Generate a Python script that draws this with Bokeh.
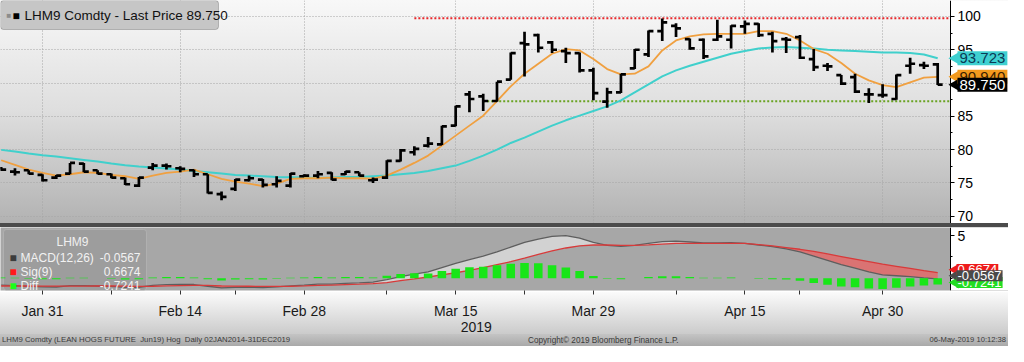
import numpy as np
import pandas as pd
from bokeh.plotting import figure
from bokeh.layouts import column
from bokeh.models import (ColumnDataSource, FixedTicker, SingleIntervalTicker,
                          Label, BoxAnnotation, Div, Range1d, Grid, LinearAxis)
from bokeh.transform import dodge
from bokeh.embed import file_html
from bokeh.resources import INLINE

# ---------------- data ----------------
dates = [
    "2019-01-28", "2019-01-29", "2019-01-30", "2019-01-31",
    "2019-02-01", "2019-02-04", "2019-02-05", "2019-02-06", "2019-02-07", "2019-02-08",
    "2019-02-11", "2019-02-12", "2019-02-13", "2019-02-14", "2019-02-15",
    "2019-02-19", "2019-02-20", "2019-02-21", "2019-02-22",
    "2019-02-25", "2019-02-26", "2019-02-27", "2019-02-28", "2019-03-01",
    "2019-03-04", "2019-03-05", "2019-03-06", "2019-03-07", "2019-03-08",
    "2019-03-11", "2019-03-12", "2019-03-13", "2019-03-14", "2019-03-15",
    "2019-03-18", "2019-03-19", "2019-03-20", "2019-03-21", "2019-03-22",
    "2019-03-25", "2019-03-26", "2019-03-27", "2019-03-28", "2019-03-29",
    "2019-04-01", "2019-04-02", "2019-04-03", "2019-04-04", "2019-04-05",
    "2019-04-08", "2019-04-09", "2019-04-10", "2019-04-11", "2019-04-12",
    "2019-04-15", "2019-04-16", "2019-04-17", "2019-04-18",
    "2019-04-22", "2019-04-23", "2019-04-24", "2019-04-25", "2019-04-26",
    "2019-04-29", "2019-04-30", "2019-05-01", "2019-05-02", "2019-05-03",
    "2019-05-06",
]

opens = [77.2, 76.7, 76.9, 76.2, 75.8, 76.4, 77.9, 76.9, 76.3, 75.7,
         74.6, 77.3, 77.6, 77.2, 76.9, 76.3, 73.3, 74.1, 75.4, 75.5,
         74.8, 74.6, 76.0, 76.1, 76.5, 76.3, 76.6, 75.4, 75.8, 78.3,
         79.6, 80.6, 80.8, 83.6, 88.3, 88.0, 87.3, 90.5, 96.0, 97.2,
         96.1, 94.8, 94.5, 91.9, 87.2, 88.6, 92.2, 94.3, 97.8, 98.6,
         96.6, 96.5, 96.5, 96.5, 98.5, 98.9, 97.4, 96.6, 96.9, 93.6,
         92.6, 91.2, 90.9, 88.3, 88.2, 87.6, 92.6, 92.7, 92.8]
highs = [77.4, 77.2, 76.9, 76.3, 76.2, 78.0, 78.0, 76.9, 76.4, 75.8,
         75.9, 78.0, 77.9, 77.5, 77.0, 76.3, 73.7, 75.6, 76.1, 75.6,
         76.0, 76.5, 76.3, 76.8, 76.6, 76.8, 76.6, 75.8, 78.4, 80.1,
         80.5, 81.9, 83.6, 86.6, 88.8, 88.4, 90.2, 94.6, 97.7, 97.4,
         96.3, 95.3, 94.6, 92.3, 89.3, 91.4, 95.1, 97.9, 99.7, 99.0,
         96.7, 96.7, 99.5, 98.7, 99.4, 99.0, 97.7, 96.9, 97.2, 95.1,
         93.0, 91.2, 91.4, 89.2, 89.8, 91.3, 93.8, 93.2, 93.0]
lows = [76.8, 76.1, 76.3, 75.2, 75.6, 76.3, 76.6, 76.3, 75.7, 74.7,
        74.4, 76.9, 77.0, 76.6, 75.9, 73.4, 72.4, 73.8, 75.2, 74.3,
        74.3, 74.3, 75.9, 75.7, 75.4, 76.2, 76.0, 75.0, 75.6, 78.2,
        79.1, 80.3, 80.7, 83.5, 85.6, 85.8, 87.2, 90.5, 91.0, 94.6,
        94.5, 93.0, 91.6, 87.4, 86.3, 88.5, 92.1, 93.9, 96.3, 96.9,
        95.0, 93.6, 96.3, 95.2, 97.4, 96.9, 94.6, 94.5, 93.6, 91.8,
        91.8, 89.7, 88.5, 87.0, 87.8, 87.5, 91.4, 92.1, 89.7]
closes = [77.0, 76.6, 76.4, 75.4, 76.1, 78.0, 76.7, 76.4, 75.8, 74.8,
          75.8, 77.6, 77.5, 77.1, 76.3, 73.5, 72.9, 75.5, 75.7, 74.7,
          75.3, 76.4, 76.1, 76.3, 75.5, 76.7, 76.1, 75.5, 78.3, 79.9,
          80.1, 80.9, 83.5, 86.5, 87.6, 87.3, 90.2, 94.5, 95.8, 95.3,
          95.0, 94.5, 91.9, 88.5, 88.6, 91.3, 95.0, 97.8, 99.1, 98.2,
          95.2, 94.0, 97.0, 98.6, 98.9, 97.2, 96.3, 96.5, 93.8, 92.4,
          92.5, 89.9, 88.7, 88.3, 88.2, 91.2, 92.9, 92.6, 89.75]

ma_fast = [78.4, 77.7, 77.0, 76.5, 76.1, 76.3, 76.6, 76.5, 76.2, 76.0,
           75.6, 76.1, 76.5, 76.7, 77.0, 76.3, 75.6, 75.2, 74.9, 74.5,
           74.9, 75.6, 75.7, 75.7, 75.8, 75.7, 75.7, 75.65, 76.1, 77.0,
           78.0, 79.1, 80.6, 82.1, 83.6, 85.1, 87.3, 89.5, 91.4, 92.9,
           94.4, 95.1, 94.9, 93.6, 92.1, 91.3, 91.4, 92.5, 94.9, 96.4,
           97.0, 97.3, 97.4, 97.4, 97.4, 97.8, 97.8, 97.4, 96.4, 95.1,
           94.4, 93.0, 91.4, 90.4, 89.7, 89.4, 90.1, 90.8, 90.94]
ma_slow = [79.96, 79.7, 79.4, 79.15, 78.95, 78.7, 78.45, 78.2, 77.9, 77.65,
           77.45, 77.3, 77.15, 77.0, 76.8, 76.6, 76.4, 76.2, 76.1, 76.0,
           75.9, 75.85, 75.8, 75.75, 75.8, 75.9, 75.9, 76.0, 76.1, 76.3,
           76.5, 76.8, 77.2, 77.6, 78.3, 79.1, 80.0, 81.0, 81.8, 82.7,
           83.6, 84.4, 85.1, 85.8, 86.5, 87.4, 88.6, 89.8, 91.0, 91.9,
           92.6, 93.2, 93.8, 94.4, 94.8, 95.2, 95.35, 95.4, 95.3, 95.2,
           95.0, 94.9, 94.8, 94.7, 94.6, 94.6, 94.5, 94.3, 93.723]

macd = [-0.80, -0.85, -0.95, -1.01, -1.02, -0.87, -0.86, -0.90, -0.95, -1.07,
        -1.05, -0.83, -0.74, -0.71, -0.73, -0.93, -1.13, -1.06, -1.03, -1.10,
        -1.00, -0.88, -0.79, -0.69, -0.69, -0.59, -0.54, -0.45, -0.15, 0.20,
        0.50, 0.75, 1.25, 1.75, 2.20, 2.60, 3.10, 3.65, 4.20, 4.60,
        4.90, 5.00, 4.70, 4.20, 3.85, 3.75, 3.85, 4.10, 4.30, 4.35,
        4.25, 4.15, 4.15, 4.18, 4.08, 3.90, 3.70, 3.45, 3.10, 2.60,
        2.10, 1.60, 1.20, 0.75, 0.40, 0.30, 0.20, 0.05, -0.0567]
signal = [-0.90, -0.90, -0.90, -0.91, -0.92, -0.92, -0.91, -0.90, -0.90, -0.92,
          -0.95, -0.93, -0.89, -0.86, -0.83, -0.83, -0.88, -0.91, -0.93, -0.95,
          -0.95, -0.93, -0.89, -0.84, -0.79, -0.74, -0.69, -0.63, -0.50, -0.28,
          -0.08, 0.15, 0.40, 0.65, 0.92, 1.25, 1.60, 1.95, 2.35, 2.80,
          3.20, 3.55, 3.80, 3.90, 3.90, 3.85, 3.85, 3.92, 4.00, 4.08,
          4.10, 4.10, 4.10, 4.10, 4.08, 3.95, 3.80, 3.60, 3.40, 3.15,
          2.85, 2.55, 2.25, 1.95, 1.65, 1.40, 1.15, 0.90, 0.6674]
diff = [0.10, 0.05, -0.05, -0.10, -0.10, 0.05, 0.05, 0.00, -0.05, -0.15,
        -0.10, 0.10, 0.15, 0.15, 0.10, -0.10, -0.25, -0.15, -0.10, -0.15,
        -0.05, 0.05, 0.10, 0.15, 0.10, 0.15, 0.15, 0.10, 0.30, 0.50,
        0.58, 0.55, 0.85, 1.12, 1.30, 1.36, 1.53, 1.70, 1.80, 1.77,
        1.53, 1.26, 0.85, 0.27, -0.05, -0.10, 0.00, 0.15, 0.25, 0.25,
        0.15, 0.05, 0.05, 0.08, 0.00, -0.05, -0.10, -0.15, -0.30, -0.55,
        -0.75, -0.95, -1.05, -1.20, -1.25, -1.10, -0.95, -0.85, -0.7241]

major_tick_dates = ["2019-01-31", "2019-02-14", "2019-02-28", "2019-03-15",
                    "2019-03-29", "2019-04-15", "2019-04-30"]
minor_tick_dates = ["2019-02-07", "2019-02-21", "2019-03-08", "2019-03-22",
                    "2019-04-08", "2019-04-22"]
year_label = "2019"
year_label_date = "2019-03-15"

resistance_level = 99.75
resistance_from = "2019-03-12"
support_level = 87.25
support_from = "2019-03-19"

ticker_name = "LHM9"
legend_title = f"{ticker_name} Comdty - Last Price {closes[-1]:.3f}"
macd_rows = [("MACD(12,26)", macd[-1], "#3c3c3c"),
             ("Sig(9)", signal[-1], "#ff1a1a"),
             ("Diff", diff[-1], "#1aff1a")]
footer_left = "LHM9 Comdty (LEAN HOGS FUTURE  Jun19) Hog  Daily 02JAN2014-31DEC2019"
footer_mid = "Copyright\u00a9 2019 Bloomberg Finance L.P."
footer_right = "06-May-2019 10:12:38"

# ---------------- geometry ----------------
W = 1008
FRAME_W = 950          # plotting area left of the price axis
TOP_H = 223
SEP_H = 4
BOT_FRAME_H = 65
AXIS_H = 42
FOOT_H = 12
X0, X_AX = -0.05, 68.93
pxx = FRAME_W / (X_AX - X0)
X_END = X0 + W / pxx
PY0, PY1 = 68.9, 102.4
MY0, MY1 = -1.43, 5.95
pyt = TOP_H / (PY1 - PY0)
pyb = BOT_FRAME_H / (MY1 - MY0)
FONT = "Liberation Sans"

idx = {d: i for i, d in enumerate(dates)}
x = list(range(len(dates)))
fmt = lambda d: pd.Timestamp(d).strftime("%b %d").replace(" 0", " ")
major_idx = [idx[d] for d in major_tick_dates]
minor_idx = [idx[d] for d in minor_tick_dates]

src = ColumnDataSource(dict(x=x, o=opens, h=highs, l=lows, c=closes,
                            fast=ma_fast, slow=ma_slow))
m_arr, s_arr = np.array(macd), np.array(signal)
msrc = ColumnDataSource(dict(x=x, macd=macd, sig=signal, diff=diff,
                             up=np.maximum(m_arr, s_arr), lo=np.minimum(m_arr, s_arr)))

xr = Range1d(X0, X_END)


def style_value_axis(ax):
    ax.fixed_location = X_AX
    ax.axis_line_color = "#000000"
    ax.major_tick_in = 0
    ax.major_tick_out = 4
    ax.minor_tick_in = 0
    ax.minor_tick_out = 2
    ax.major_tick_line_color = "#000000"
    ax.minor_tick_line_color = "#000000"
    ax.major_label_text_font = FONT
    ax.major_label_text_font_size = "14px"
    ax.major_label_text_color = "#000000"
    ax.major_label_standoff = 3


def tag(fig, yv, txt, bg, fg, py, size="15px", off=7, dy=0, pad=2, tri=14):
    # pointed end of the tag
    fig.scatter(x=[X_AX + (off - 1) / pxx], y=[yv + dy / py],
                marker="triangle", angle=np.pi / 2, size=tri,
                fill_color=bg, line_color=None, level="annotation")
    fig.add_layout(Label(x=X_AX, y=yv, x_offset=off, y_offset=dy, text=txt, text_font=FONT,
                         text_font_size=size, text_color=fg, text_baseline="middle",
                         text_align="left", background_fill_color=bg,
                         background_fill_alpha=1, padding=pad))


# ---------------- top panel ----------------
top = figure(width=W, height=TOP_H, x_range=xr, y_range=Range1d(PY0, PY1),
             output_backend="svg", toolbar_location=None,
             x_axis_location=None, y_axis_location="right",
             min_border_left=0, min_border_right=0,
             min_border_top=0, min_border_bottom=0,
             background_fill_alpha=0, border_fill_alpha=0,
             outline_line_color=None, margin=0)
top.styles = {"background": "linear-gradient(to bottom, #f8f8f8 0%, #dedede 50%, #b2b2b2 100%)"}

for g in top.grid:
    if g.dimension == 0:
        g.visible = False

ya = top.yaxis[0]
ya.ticker = SingleIntervalTicker(interval=5, num_minor_ticks=2)
style_value_axis(ya)

top.ygrid.grid_line_color = "#a4a4a4"
top.ygrid.grid_line_dash = "1 2"
vgrid = Grid(dimension=0, ticker=FixedTicker(ticks=major_idx),
             grid_line_color="#a4a4a4", grid_line_dash="1 2")
top.add_layout(vgrid)

top.segment(x0=[idx[resistance_from]], y0=[resistance_level], x1=[X_AX], y1=[resistance_level],
            line_color="#e8262a", line_width=2, line_dash="2 2")
top.segment(x0=[idx[support_from]], y0=[support_level], x1=[X_AX], y1=[support_level],
            line_color="#6aa323", line_width=2, line_dash="2 2")

top.line("x", "slow", source=src, line_color="#40d0cc", line_width=2)
top.line("x", "fast", source=src, line_color="#f0a040", line_width=1.8)

BAR_W = 2.7
top.segment(x0="x", y0="l", x1="x", y1="h", source=src, line_color="#000000", line_width=BAR_W)
top.segment(x0=dodge("x", -0.36), y0="o", x1="x", y1="o", source=src,
            line_color="#000000", line_width=BAR_W)
top.segment(x0="x", y0="c", x1=dodge("x", 0.36), y1="c", source=src,
            line_color="#000000", line_width=BAR_W)

# white strip behind the price scale
top.add_layout(BoxAnnotation(left=X_AX, right=None, top=None, bottom=None,
                             fill_color="#ffffff", fill_alpha=1, line_color=None, level="glyph"))

# legend box top-left
top.add_layout(BoxAnnotation(left=None, right=X0 + 218 / pxx, top=None, bottom=PY1 - 29 / pyt,
                             fill_color="#c6c6c6", fill_alpha=1, line_color="#4a4a4a",
                             line_width=1, border_radius=3))
top.add_layout(Label(x=X0 + 6 / pxx, y=PY1 - 15 / pyt, text="\u25a0", text_font_size="8px",
                     text_color="#8c8c8c", text_baseline="middle"))
top.add_layout(Label(x=X0 + 12 / pxx, y=PY1 - 15 / pyt, text="\u25a0", text_font_size="12px",
                     text_color="#000000", text_baseline="middle"))
top.add_layout(Label(x=X0 + 24 / pxx, y=PY1 - 15 / pyt, text=legend_title, text_font=FONT,
                     text_font_size="13.5px", text_color="#111111", text_baseline="middle"))

tag(top, ma_fast[-1], f"{ma_fast[-1]:.3f}", "#f39a1e", "#3a2000", pyt)
tag(top, ma_slow[-1], f"{ma_slow[-1]:.3f}", "#3fd0d0", "#0a3a55", pyt)
tag(top, closes[-1], f"{closes[-1]:.3f}", "#000000", "#ffffff", pyt)

# ---------------- separator ----------------
sep = Div(text="", width=W, height=SEP_H, margin=0,
          styles={"background-color": "#4b4b4b", "overflow": "hidden"})

# ---------------- bottom panel ----------------
bot = figure(width=W, height=BOT_FRAME_H + AXIS_H, x_range=xr, y_range=Range1d(MY0, MY1),
             output_backend="svg", toolbar_location=None,
             x_axis_location="below", y_axis_location="right",
             min_border_left=0, min_border_right=0,
             min_border_top=0, min_border_bottom=AXIS_H,
             background_fill_color="#a7a7a7", background_fill_alpha=1,
             border_fill_alpha=0, outline_line_color=None, margin=0)
bot.styles = {"background": f"linear-gradient(to bottom, #fbfbfb, #cbcbcb) bottom left / 100% {AXIS_H}px no-repeat"}
bot.grid.visible = False

bot.add_layout(BoxAnnotation(left=X0 + 3 / pxx, right=X0 + 146 / pxx, top=MY1 - 2 / pyb, bottom=None,
                             fill_color="#9d9d9d", fill_alpha=1, line_color="#d2d2d2",
                             line_width=1, border_radius=3, level="underlay"))

bot.varea(x="x", y1="sig", y2="up", source=msrc, fill_color="#d9d9d9", fill_alpha=0.85)
bot.varea(x="x", y1="lo", y2="sig", source=msrc, fill_color="#e36a6a", fill_alpha=0.85)
bot.line("x", "macd", source=msrc, line_color="#5e5e5e", line_width=1.3)
bot.line("x", "sig", source=msrc, line_color="#d83a3a", line_width=1.3)
bot.vbar(x="x", top="diff", bottom=0, width=0.62, source=msrc,
         fill_color="#18e618", line_color=None)

bot.add_layout(BoxAnnotation(left=X_AX, right=None, top=None, bottom=None,
                             fill_color="#ffffff", fill_alpha=1, line_color=None, level="glyph"))

xa = bot.xaxis[0]
xa.ticker = FixedTicker(ticks=major_idx, minor_ticks=minor_idx)
xa.major_label_overrides = {i: fmt(dates[i]) for i in major_idx}
xa.axis_line_color = None
xa.major_tick_in = 0
xa.major_tick_out = 4
xa.minor_tick_in = 0
xa.minor_tick_out = 4
xa.major_tick_line_color = "#333333"
xa.minor_tick_line_color = "#333333"
xa.major_label_text_font = FONT
xa.major_label_text_font_size = "14px"
xa.major_label_text_color = "#1a1a1a"
xa.major_label_standoff = 8

year_x = idx[year_label_date] + 1.5
ya2 = LinearAxis(ticker=FixedTicker(ticks=[year_x]),
                 major_label_overrides={year_x: year_label},
                 axis_line_color=None, major_tick_in=0, major_tick_out=0,
                 minor_tick_in=0, minor_tick_out=0, major_label_standoff=0,
                 major_label_text_font=FONT, major_label_text_font_size="14px",
                 major_label_text_color="#1a1a1a")
bot.add_layout(ya2, "below")

yb = bot.yaxis[0]
yb.ticker = FixedTicker(ticks=[5], minor_ticks=[2.5, 0])
style_value_axis(yb)

# MACD legend
bot.add_layout(Label(x=X0 + 72 / pxx, y=MY1 - 15 / pyb, text=ticker_name, text_font=FONT,
                     text_font_size="12px", text_color="#f0f0f0", text_align="center",
                     text_baseline="middle"))
for k, (name, val, col) in enumerate(macd_rows):
    yy = MY1 - (31 + 14.5 * k) / pyb
    bot.add_layout(Label(x=X0 + 9 / pxx, y=yy, text="\u25a0", text_font_size="12px",
                         text_color=col, text_baseline="middle"))
    bot.add_layout(Label(x=X0 + 20 / pxx, y=yy, text=name, text_font=FONT,
                         text_font_size="12px", text_color="#f2f2f2", text_baseline="middle"))
    bot.add_layout(Label(x=X0 + 140 / pxx, y=yy, text=f"{val:.4f}", text_font=FONT,
                         text_font_size="12px", text_color="#f2f2f2", text_baseline="middle",
                         text_align="right"))

tag(bot, signal[-1], f"{signal[-1]:.4f}", "#ee1c1c", "#ffffff", pyb, size="13px", off=6, dy=3, pad=1, tri=12)
tag(bot, diff[-1], f"{diff[-1]:.4f}", "#22dd22", "#ffffff", pyb, size="13px", off=6, dy=2, pad=1, tri=12)
tag(bot, macd[-1], f"{macd[-1]:.4f}", "#4a4a4a", "#ffffff", pyb, size="13px", off=6, dy=3, pad=1, tri=12)

# ---------------- footer ----------------
footer = Div(text=(
    f'<div style="position:relative;width:{W}px;height:{FOOT_H}px;font-family:\'{FONT}\',sans-serif;color:#3a3a3a;">'
    f'<span style="position:absolute;left:2px;top:0px;font-size:7.8px;white-space:pre;">{footer_left}</span>'
    f'<span style="position:absolute;left:528px;top:1px;font-size:8.2px;white-space:pre;">{footer_mid}</span>'
    f'<span style="position:absolute;right:2px;top:1px;font-size:7.6px;white-space:pre;">{footer_right}</span>'
    '</div>'),
    width=W, height=FOOT_H, margin=0,
    styles={"background": "linear-gradient(to bottom, #c4c4c4, #a9a9a9)", "overflow": "hidden"})

layout = column(top, sep, bot, footer, spacing=0, margin=0)

open("out.html", "w").write(file_html(layout, INLINE))
